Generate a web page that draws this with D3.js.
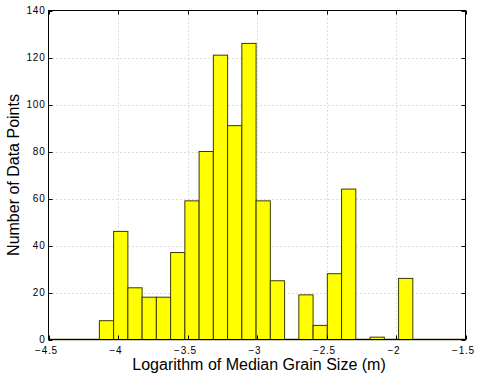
<!DOCTYPE html>
<html><head><meta charset="utf-8">
<script src="https://cdn.jsdelivr.net/npm/d3@7"></script>
<style>body{margin:0;background:#fff}svg{display:block}text{font-family:"Liberation Sans",Arial,sans-serif;fill:#000}</style>
</head><body>
<svg id="c" width="477" height="376"></svg>
<script>
const binStart = -4.134;
const binWidth = 0.1025;
const counts = [8, 46, 22, 18, 18, 37, 59, 80, 121, 91, 126, 59, 25, 0, 19, 6, 28, 64, 0, 1, 0, 26];
const xTicks = [-4.5, -4, -3.5, -3, -2.5, -2, -1.5];
const yTicks = [0, 20, 40, 60, 80, 100, 120, 140];
const xLabel = "Logarithm of Median Grain Size (m)";
const yLabel = "Number of Data Points";

const svg = d3.select("#c");
const L = 48.5, R = 465.5, T = 10.5, B = 339.5;
const x = d3.scaleLinear().domain([-4.5, -1.5]).range([L, R]);
const y = d3.scaleLinear().domain([0, 140]).range([B, T]);
const fmt = v => String(v).replace("-", "\u2212");

// grid
const g = svg.append("g");
g.selectAll(".gx").data(xTicks.slice(1, -1)).enter().append("line")
  .attr("x1", d => Math.round(x(d)) + 0.5).attr("x2", d => Math.round(x(d)) + 0.5)
  .attr("y1", T).attr("y2", B).attr("stroke", "#bdbdbd").attr("stroke-dasharray", "1,3");
g.selectAll(".gy").data(yTicks.slice(1, -1)).enter().append("line")
  .attr("y1", d => Math.round(y(d)) + 0.5).attr("y2", d => Math.round(y(d)) + 0.5)
  .attr("x1", L).attr("x2", R).attr("stroke", "#bdbdbd").attr("stroke-dasharray", "1,3");

// baseline
svg.append("line").attr("x1", L).attr("x2", R).attr("y1", y(0)).attr("y2", y(0))
  .attr("stroke", "#333300").attr("stroke-width", 1.5);

// bars
svg.selectAll(".bar").data(counts.map((c, i) => ({c, i}))).enter()
  .filter(d => d.c > 0).append("rect")
  .attr("x", d => x(binStart + d.i * binWidth))
  .attr("width", d => x(binStart + (d.i + 1) * binWidth) - x(binStart + d.i * binWidth))
  .attr("y", d => y(d.c)).attr("height", d => y(0) - y(d.c))
  .attr("fill", "#ffff00").attr("stroke", "#3a3a00").attr("stroke-width", 1);

// axes box
svg.append("rect").attr("x", L).attr("y", T).attr("width", R - L).attr("height", B - T)
  .attr("fill", "none").attr("stroke", "#000").attr("stroke-width", 1);

// ticks (inward, all sides)
const tl = 4;
xTicks.forEach(v => {
  const px = Math.round(x(v)) + 0.5;
  svg.append("line").attr("x1", px).attr("x2", px).attr("y1", B).attr("y2", B - tl).attr("stroke", "#000");
  svg.append("line").attr("x1", px).attr("x2", px).attr("y1", T).attr("y2", T + tl).attr("stroke", "#000");
  svg.append("text").attr("x", x(v) - 2).attr("y", 354).attr("text-anchor", "middle")
    .attr("font-size", 10).attr("letter-spacing", 0.8).text(fmt(v));
});
yTicks.forEach(v => {
  const py = Math.round(y(v)) + 0.5;
  svg.append("line").attr("y1", py).attr("y2", py).attr("x1", L).attr("x2", L + tl).attr("stroke", "#000");
  svg.append("line").attr("y1", py).attr("y2", py).attr("x1", R).attr("x2", R - tl).attr("stroke", "#000");
  svg.append("text").attr("x", L - 3).attr("y", y(v) + 3).attr("text-anchor", "end")
    .attr("font-size", 10).attr("letter-spacing", 0.8).text(fmt(v));
});

svg.append("text").attr("x", (L + R) / 2 + 2).attr("y", 370).attr("text-anchor", "middle")
  .attr("font-size", 16).text(xLabel);
svg.append("text").attr("transform", `translate(19,${(T + B) / 2}) rotate(-90)`)
  .attr("text-anchor", "middle").attr("font-size", 16).text(yLabel);
</script>
</body></html>
